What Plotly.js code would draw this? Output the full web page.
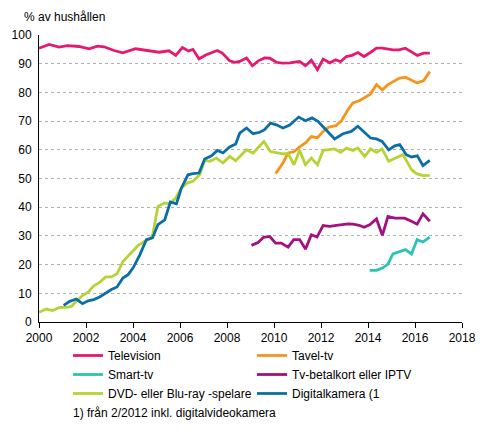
<!DOCTYPE html>
<html>
<head>
<meta charset="utf-8">
<script src="https://cdn.plot.ly/plotly-3.0.1.min.js"></script>
<style>html,body{margin:0;padding:0;background:#fff;}#chart{width:491px;height:436px;}</style>
</head>
<body>
<div id="chart"></div>
<script>
// Data (decimal years, % of households)
const tvYears = [2000.00, 2000.43, 2000.85, 2001.21, 2001.70, 2002.13, 2002.49, 2002.77, 2003.19, 2003.57, 2004.11, 2004.68, 2005.11, 2005.53, 2005.82, 2006.10, 2006.36, 2006.55, 2006.81, 2007.12, 2007.59, 2007.80, 2008.11, 2008.33, 2008.54, 2008.83, 2009.08, 2009.33, 2009.60, 2009.82, 2010.10, 2010.35, 2010.67, 2011.09, 2011.34, 2011.59, 2011.85, 2012.09, 2012.37, 2012.63, 2012.83, 2013.08, 2013.32, 2013.57, 2013.83, 2014.10, 2014.36, 2014.61, 2015.06, 2015.32, 2015.59, 2015.85, 2016.10, 2016.37, 2016.63];
const tvValues = [95.4, 96.7, 95.8, 96.3, 96.0, 95.2, 96.1, 95.9, 94.6, 93.8, 95.2, 94.4, 94.0, 94.5, 92.9, 95.6, 94.4, 95.0, 91.7, 93.1, 94.6, 93.7, 91.0, 90.5, 90.8, 92.0, 89.3, 91.0, 92.0, 91.9, 90.5, 90.2, 90.3, 90.8, 89.3, 91.2, 87.9, 91.6, 90.3, 91.4, 90.7, 92.5, 92.9, 93.9, 92.5, 93.9, 95.4, 95.4, 94.8, 94.8, 95.4, 94.1, 92.9, 93.7, 93.7];

const tavelYears = [2010.07, 2010.38, 2010.60, 2010.85, 2011.09, 2011.34, 2011.59, 2011.85, 2012.09, 2012.34, 2012.63, 2012.87, 2013.15, 2013.36, 2013.65, 2013.86, 2014.10, 2014.36, 2014.61, 2014.85, 2015.06, 2015.32, 2015.59, 2015.85, 2016.10, 2016.37, 2016.63];
const tavelValues = [51.7, 55.4, 58.9, 59.3, 61.0, 62.4, 64.6, 64.2, 66.4, 67.9, 68.4, 70.1, 74.0, 76.3, 77.2, 78.3, 79.4, 82.7, 80.9, 82.7, 83.8, 84.9, 85.3, 84.4, 83.3, 84.1, 87.3];

const smartYears = [2014.07, 2014.36, 2014.61, 2014.85, 2015.06, 2015.32, 2015.59, 2015.85, 2016.09, 2016.34, 2016.63];
const smartValues = [18.0, 18.0, 18.8, 20.2, 23.7, 24.4, 25.2, 23.7, 28.7, 27.9, 29.6];

const payYears = [2009.04, 2009.32, 2009.56, 2009.82, 2010.07, 2010.31, 2010.60, 2010.84, 2011.09, 2011.34, 2011.59, 2011.83, 2012.09, 2012.37, 2012.66, 2012.90, 2013.15, 2013.36, 2013.62, 2013.83, 2014.07, 2014.36, 2014.61, 2014.85, 2015.14, 2015.32, 2015.56, 2015.85, 2016.09, 2016.34, 2016.63];
const payValues = [26.7, 27.7, 29.5, 29.8, 27.5, 27.5, 26.1, 28.7, 28.7, 25.4, 30.4, 29.6, 33.6, 33.3, 33.7, 34.0, 34.2, 34.1, 33.7, 33.0, 33.9, 35.9, 30.2, 36.8, 36.2, 36.2, 36.2, 35.1, 34.1, 37.7, 35.1];

const dvdYears = [2000.00, 2000.31, 2000.57, 2000.88, 2001.17, 2001.38, 2001.59, 2001.85, 2002.09, 2002.33, 2002.58, 2002.84, 2003.08, 2003.32, 2003.57, 2003.79, 2004.00, 2004.21, 2004.50, 2004.74, 2004.85, 2005.06, 2005.35, 2005.56, 2005.82, 2006.06, 2006.30, 2006.55, 2006.84, 2007.05, 2007.28, 2007.55, 2007.83, 2008.11, 2008.37, 2008.83, 2009.11, 2009.57, 2009.85, 2010.10, 2010.38, 2010.60, 2010.85, 2011.09, 2011.34, 2011.59, 2011.85, 2012.09, 2012.34, 2012.58, 2012.84, 2013.08, 2013.36, 2013.57, 2013.86, 2014.11, 2014.36, 2014.60, 2014.88, 2015.14, 2015.49, 2015.85, 2016.06, 2016.34, 2016.63];
const dvdValues = [3.4, 4.5, 4.0, 5.1, 5.1, 5.4, 7.2, 9.2, 10.4, 12.6, 13.8, 15.7, 15.7, 16.8, 21.1, 22.9, 24.6, 26.6, 28.1, 29.0, 30.8, 40.3, 41.5, 41.2, 43.2, 46.7, 48.4, 49.0, 51.3, 56.3, 56.0, 57.1, 55.4, 57.7, 56.2, 60.0, 58.9, 62.9, 59.4, 59.1, 58.6, 58.7, 54.8, 59.8, 54.8, 57.1, 54.8, 59.8, 60.1, 60.3, 59.1, 60.6, 59.8, 60.6, 57.7, 60.3, 59.1, 60.3, 56.0, 57.1, 58.3, 53.1, 51.7, 51.0, 51.1];

const camYears = [2001.05, 2001.31, 2001.59, 2001.85, 2002.09, 2002.33, 2002.58, 2002.84, 2003.08, 2003.32, 2003.57, 2003.79, 2004.00, 2004.29, 2004.57, 2004.83, 2005.06, 2005.35, 2005.59, 2005.85, 2006.06, 2006.34, 2006.55, 2006.81, 2007.05, 2007.34, 2007.59, 2007.83, 2008.11, 2008.37, 2008.54, 2008.83, 2009.11, 2009.39, 2009.60, 2009.85, 2010.10, 2010.38, 2010.67, 2011.05, 2011.34, 2011.62, 2011.87, 2012.23, 2012.58, 2012.94, 2013.29, 2013.57, 2013.86, 2014.11, 2014.36, 2014.60, 2014.88, 2015.14, 2015.35, 2015.63, 2015.85, 2016.10, 2016.34, 2016.63];
const camValues = [5.8, 7.2, 8.0, 6.4, 7.4, 7.8, 8.7, 10.1, 11.3, 12.2, 15.3, 16.5, 18.8, 23.4, 28.7, 29.3, 33.9, 35.6, 41.8, 41.2, 46.7, 51.3, 51.7, 51.9, 56.8, 57.9, 59.8, 58.9, 61.0, 62.0, 65.8, 67.6, 65.6, 66.1, 67.0, 69.3, 68.7, 67.6, 68.6, 71.4, 70.1, 71.1, 69.9, 66.8, 63.8, 65.6, 66.4, 68.2, 65.9, 64.1, 63.8, 62.9, 60.0, 61.4, 61.8, 58.3, 57.5, 57.9, 54.5, 56.3];

const seriesNames = ["Television", "Tavel-tv", "Smart-tv", "Tv-betalkort eller IPTV", "DVD- eller Blu-ray -spelare", "Digitalkamera (1"];
const xTickVals = [2000, 2002, 2004, 2006, 2008, 2010, 2012, 2014, 2016, 2018];
const yTickVals = [0, 10, 20, 30, 40, 50, 60, 70, 80, 90, 100];
const yAxisLabel = "% av hushållen";
const footnote = "1) från 2/2012 inkl. digitalvideokamera";

const colors = ["#e5196f", "#f7941d", "#2cc3b5", "#a2117f", "#b5d334", "#0a6fa8"];
const xs = [tvYears, tavelYears, smartYears, payYears, dvdYears, camYears];
const ys = [tvValues, tavelValues, smartValues, payValues, dvdValues, camValues];

const traces = seriesNames.map((n, i) => ({
  x: xs[i], y: ys[i], name: n, type: 'scatter', mode: 'lines',
  line: {color: colors[i], width: 2.8}
}));

const font = {family: 'Liberation Sans, Arial, sans-serif', size: 12, color: '#000'};

const layout = {
  width: 491, height: 436,
  margin: {l: 39, r: 29, t: 35, b: 114, autoexpand: false},
  paper_bgcolor: '#fff', plot_bgcolor: '#fff',
  font: font,
  showlegend: true,
  xaxis: {
    range: [2000, 2018], tickvals: xTickVals, ticktext: xTickVals.map(String),
    showgrid: false, zeroline: false, showline: true, linecolor: '#000', linewidth: 1,
    ticks: 'outside', ticklen: 5, tickcolor: '#000', tickfont: font
  },
  yaxis: {
    range: [0, 100], tickvals: yTickVals, ticktext: yTickVals.map(String),
    showgrid: true, gridcolor: '#b0b0b0', griddash: 'dot', gridwidth: 1,
    zeroline: false, showline: true, linecolor: '#000', linewidth: 1,
    ticks: '', tickfont: font, ticklabelstandoff: 4
  },
  legend: {
    orientation: 'h', xref: 'container', x: 68 / 491, yref: 'container', y: 1 - 341 / 436, yanchor: 'top',
    entrywidth: 139, entrywidthmode: 'pixels', itemwidth: 30,
    font: font, tracegroupgap: 0, bgcolor: 'rgba(0,0,0,0)',
    itemclick: false
  },
  annotations: [
    {text: yAxisLabel, xref: 'paper', yref: 'paper', x: -0.04, y: 1.0, yshift: 18,
     xanchor: 'left', yanchor: 'middle', showarrow: false, font: font},
    {text: footnote, xref: 'paper', yref: 'paper', x: 0.075, y: 0, yshift: -91,
     xanchor: 'left', yanchor: 'middle', showarrow: false, font: font}
  ]
};

Plotly.newPlot('chart', traces, layout, {displayModeBar: false, staticPlot: true});
</script>
</body>
</html>
